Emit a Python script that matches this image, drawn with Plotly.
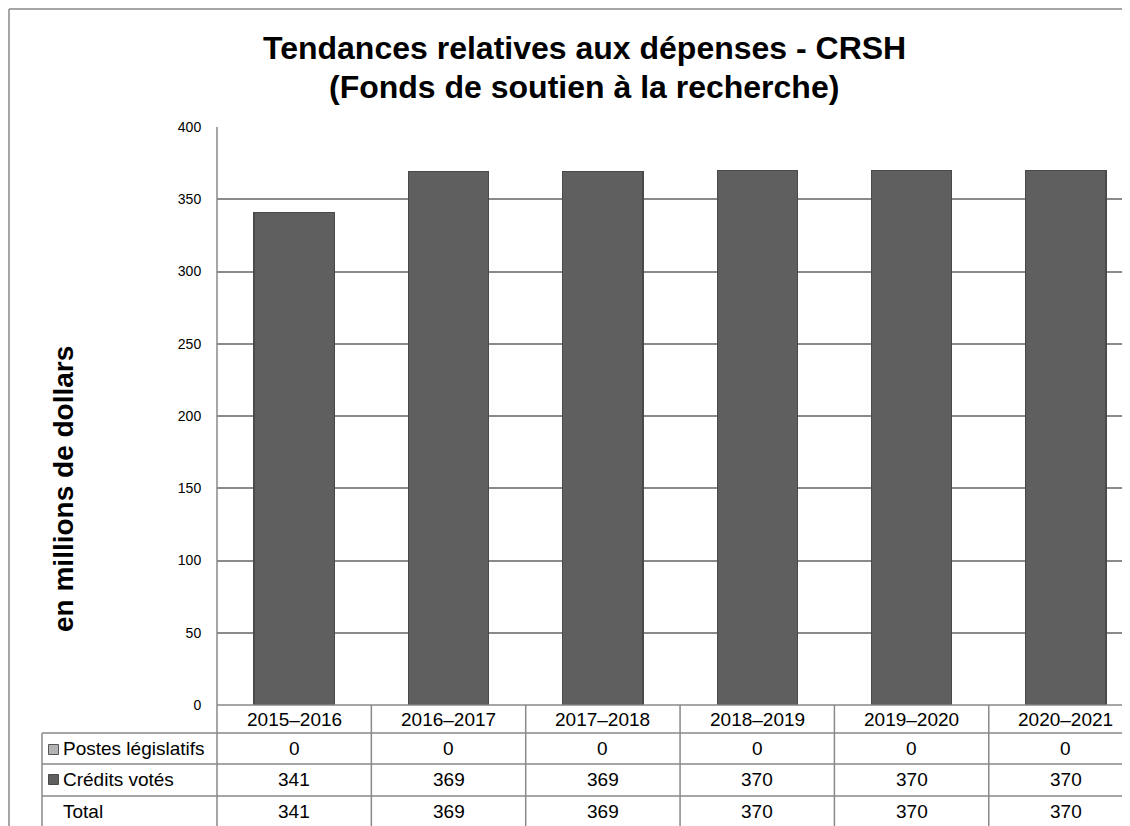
import plotly.graph_objects as go

categories = ["2015–2016", "2016–2017", "2017–2018", "2018–2019", "2019–2020", "2020–2021"]
postes_legislatifs = [0, 0, 0, 0, 0, 0]
credits_votes = [341, 369, 369, 370, 370, 370]
totals = [341, 369, 369, 370, 370, 370]
row_labels = ["Postes législatifs", "Crédits votés", "Total"]
y_ticks = [0, 50, 100, 150, 200, 250, 300, 350, 400]

# page body has an 8px margin: work in reference pixels and shift by OFF
OFF = 8
W, H = 1130 - OFF, 826 - OFF
L, R, T = 217 - OFF, 0, 127 - OFF
B = H - (705 - OFF)
PH = H - T - B
PW = W - L - R
FONT = "Arial, Liberation Sans, sans-serif"
GRID = "#898989"
LW = 1.5

def py(yref):
    return (H - B - (yref - OFF)) / PH

def px(xref):
    return (xref - OFF - L) / PW

fig = go.Figure()
fig.add_trace(go.Bar(x=categories, y=postes_legislatifs, name=row_labels[0],
                     marker=dict(color="#b3b3b3", line=dict(color="#4d4d4d", width=1)),
                     width=0.52, showlegend=False))
fig.add_trace(go.Bar(x=categories, y=credits_votes, name=row_labels[1],
                     marker=dict(color="#5f5f5f", line=dict(color="#4a4a4a", width=1.2)),
                     width=0.52, showlegend=False))

def hline(x0, x1, y, xref="paper"):
    return dict(type="line", xref=xref, yref="paper", x0=x0, x1=x1, y0=y, y1=y,
                line=dict(color=GRID, width=LW))

def vline(x, y0, y1, xref="paper"):
    return dict(type="line", xref=xref, yref="paper", x0=x, x1=x, y0=y0, y1=y1,
                line=dict(color=GRID, width=LW))

shapes = []
# outer chart border (left and top visible)
shapes.append(vline(px(9), py(9), py(840)))
shapes.append(hline(px(9), px(1145), py(9)))
# table horizontal lines
shapes.append(hline(0, px(1145), py(705)))
for yl in [733, 764, 796]:
    shapes.append(hline(px(42), px(1145), py(yl)))
# table vertical lines
shapes.append(vline(px(42), py(733), py(840)))
shapes.append(vline(0, py(127), py(840)))
for i in range(len(categories) - 1):
    shapes.append(vline(i + 0.5, 0, py(840), xref="x"))
# legend keys
shapes.append(dict(type="rect", xref="paper", yref="paper", x0=px(48.5), x1=px(58.5), y0=py(744.5), y1=py(754.5),
                   fillcolor="#b3b3b3", line=dict(color="#555555", width=1)))
shapes.append(dict(type="rect", xref="paper", yref="paper", x0=px(48.5), x1=px(58.5), y0=py(774.5), y1=py(784.5),
                   fillcolor="#5f5f5f", line=dict(color="#4a4a4a", width=1)))

annotations = []
title_lines = ["<b>Tendances relatives aux dépenses - CRSH</b>", "<b>(Fonds de soutien à la recherche)</b>"]
for txt, yy in zip(title_lines, [48, 87]):
    annotations.append(dict(text=txt, xref="paper", yref="paper", x=px(584), y=py(yy), showarrow=False,
                            font=dict(family=FONT, size=32, color="#000000"), xanchor="center", yanchor="middle"))
annotations.append(dict(text="<b>en millions de dollars</b>", xref="paper", yref="paper", x=px(63), y=py(489),
                        textangle=-90, showarrow=False, font=dict(family=FONT, size=28, color="#000000"),
                        xanchor="center", yanchor="middle"))
row_y = [748.5, 780, 811]
TF = 19
for i, cat in enumerate(categories):
    annotations.append(dict(text=cat, xref="x", yref="paper", x=i, y=py(719.5), showarrow=False,
                            font=dict(family=FONT, size=TF, color="#000000"), xanchor="center", yanchor="middle"))
    for vals, yy in zip([postes_legislatifs, credits_votes, totals], row_y):
        annotations.append(dict(text=str(vals[i]), xref="x", yref="paper", x=i, y=py(yy), showarrow=False,
                                font=dict(family=FONT, size=TF, color="#000000"), xanchor="center", yanchor="middle"))
for lab, yy in zip(row_labels, row_y):
    annotations.append(dict(text=lab, xref="paper", yref="paper", x=px(61), y=py(yy), showarrow=False,
                            font=dict(family=FONT, size=TF, color="#000000"), xanchor="left", yanchor="middle"))

fig.update_layout(
    width=W, height=H,
    margin=dict(l=L, r=R, t=T, b=B, pad=0),
    paper_bgcolor="white", plot_bgcolor="white",
    barmode="stack",
    showlegend=False,
    shapes=shapes,
    annotations=annotations,
    xaxis=dict(type="category", range=[-0.5, 5.415], showticklabels=False, showgrid=False,
               zeroline=False, showline=False, ticks=""),
    yaxis=dict(range=[0, 400], tickvals=y_ticks, showgrid=True, gridcolor=GRID, gridwidth=LW,
               zeroline=False, showline=False, ticks="outside", ticklen=12, tickcolor="rgba(0,0,0,0)",
               tickfont=dict(family=FONT, size=14, color="#000000")),
)

fig.write_html("out.html")
